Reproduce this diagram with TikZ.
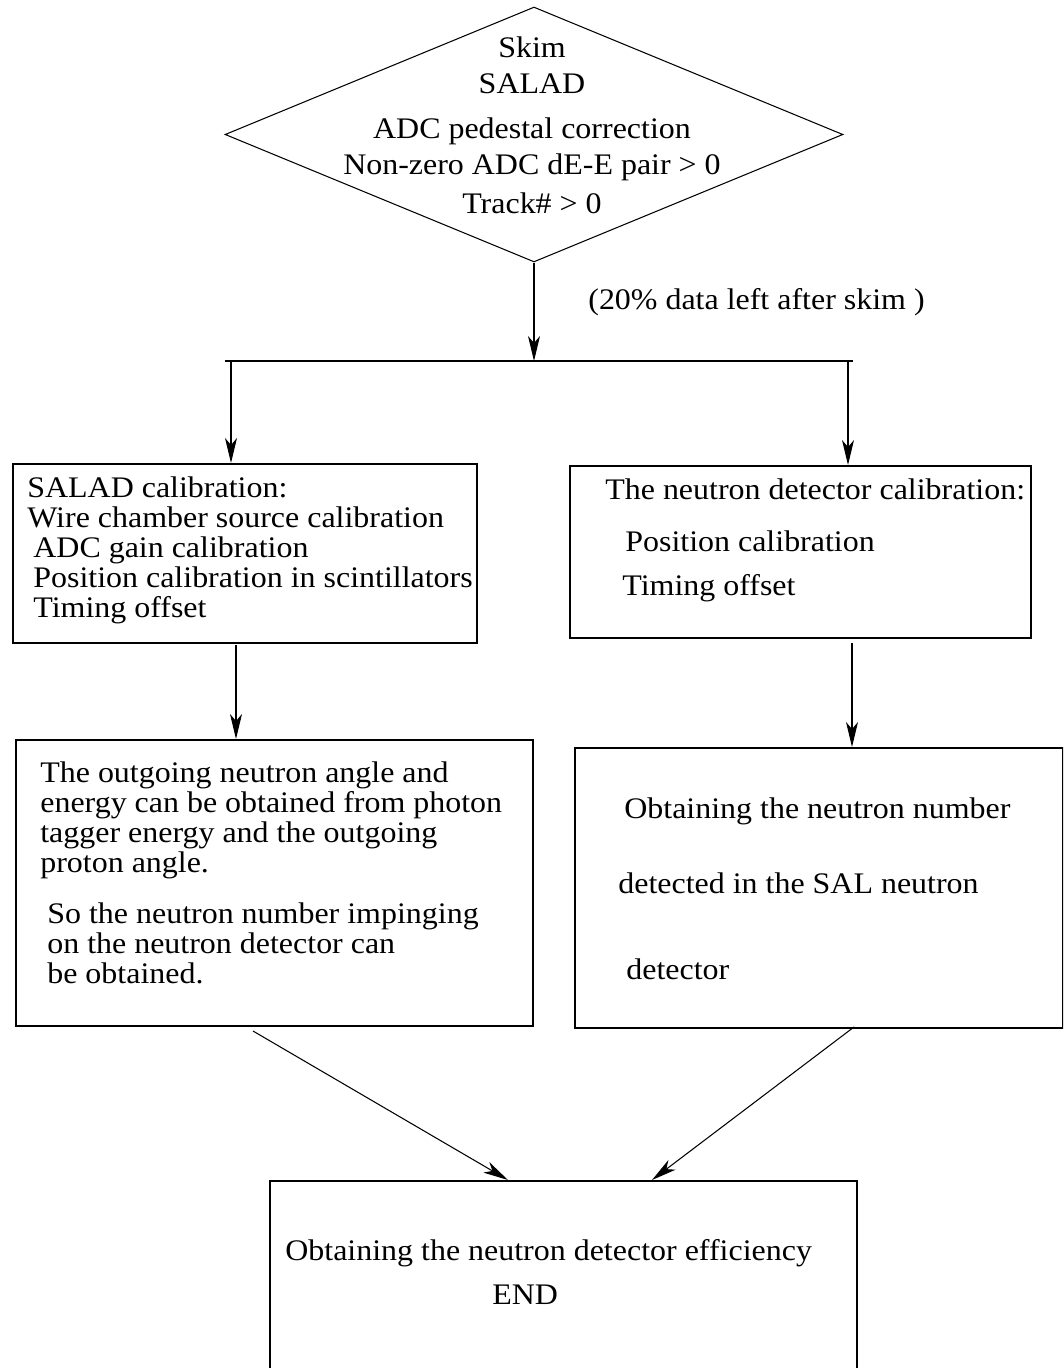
\documentclass[tikz,border=0pt]{standalone}
\usepackage{fontspec}
\setmainfont{Liberation Serif}[FakeStretch=1.07]
\usetikzlibrary{arrows.meta,shapes.geometric}

\begin{document}
\begin{tikzpicture}[x=0.02cm, y=-0.02cm,
  >={Stealth[length=0.5cm, width=0.24cm, inset=0.14cm]},
  every node/.style={font=\fontsize{17}{17.07}\selectfont, inner sep=0pt},
  box/.style={draw, line width=1.1pt, anchor=north west},
  txt/.style={anchor=north west, align=left},
  link/.style={->, line width=0.6pt}]
  \clip (0,0) rectangle (1063,1368);

  % skim step
  \node[diamond, draw, line width=0.6pt, minimum width=12.36cm, minimum height=5.1cm] (skim) at (534,134.5) {};
  \node[align=center, font=\fontsize{17}{20.5}\selectfont] (skimtxt) at (532,125)
    {Skim\\SALAD\\[0.18cm]ADC pedestal correction\\Non-zero ADC dE-E pair > 0\\[0.06cm]Track\# > 0};
  \node[anchor=west] (skimnote) at (588,302) {(20\% data left after skim )};

  % split bar
  \coordinate (barL) at (225,361);
  \coordinate (barR) at (853,361);
  \coordinate (tapL) at (231,361);
  \coordinate (tapR) at (848,361);
  \draw[line width=0.6pt] (barL) -- (barR);
  \draw[link] (skim.south) -- (skim.south |- barL);

  % calibration boxes
  \node[box, minimum width=9.28cm, minimum height=3.58cm] (salad) at (12,463) {};
  \node[txt] (saladtxt) at (27,476)
    {SALAD calibration:\\Wire chamber source calibration\\\hspace*{0.12cm}ADC gain calibration\\%
     \hspace*{0.12cm}Position calibration in scintillators\\\hspace*{0.12cm}Timing offset};
  \node[box, minimum width=9.22cm, minimum height=3.44cm] (ndcal) at (569,465) {};
  \node[txt] (ndcaltxt) at (605,478)
    {The neutron detector calibration:\\[0.44cm]\hspace*{0.4cm}Position calibration\\[0.28cm]\hspace*{0.34cm}Timing offset};
  \draw[link] (tapL) -- (tapL |- salad.north);
  \draw[link] (tapR) -- (tapR |- ndcal.north);

  % counting boxes
  \node[box, minimum width=10.34cm, minimum height=5.72cm] (angle) at (15,739) {};
  \node[txt] (angletxt) at (40,761)
    {The outgoing neutron angle and\\energy can be obtained from photon\\tagger energy and the outgoing\\proton angle.\\[0.42cm]%
     \hspace*{0.14cm}So the neutron number impinging\\\hspace*{0.14cm}on the neutron detector can\\\hspace*{0.14cm}be obtained.};
  \node[box, minimum width=9.76cm, minimum height=5.6cm] (count) at (574,747) {};
  \node[txt] (counttxt) at (618,797)
    {\hspace*{0.12cm}Obtaining the neutron number\\[0.9cm]detected in the SAL neutron\\[1.12cm]\hspace*{0.16cm}detector};
  \coordinate (outL) at (236,645);
  \coordinate (outR) at (852,643);
  \draw[link] (outL) -- (outL |- angle.north);
  \draw[link] (outR) -- (outR |- count.north);

  % result
  \node[box, minimum width=11.74cm, minimum height=4.8cm] (eff) at (269,1180) {};
  \node[txt] (efftxt) at (285,1239)
    {Obtaining the neutron detector efficiency\\[0.28cm]\hspace*{4.14cm}END};
  \coordinate (fromL) at (253,1031);
  \coordinate (fromR) at (854,1027);
  \coordinate (intoL) at (508,1180);
  \coordinate (intoR) at (652,1180);
  \draw[link] (fromL) -- (intoL);
  \draw[link] (fromR) -- (intoR);
\end{tikzpicture}
\end{document}
